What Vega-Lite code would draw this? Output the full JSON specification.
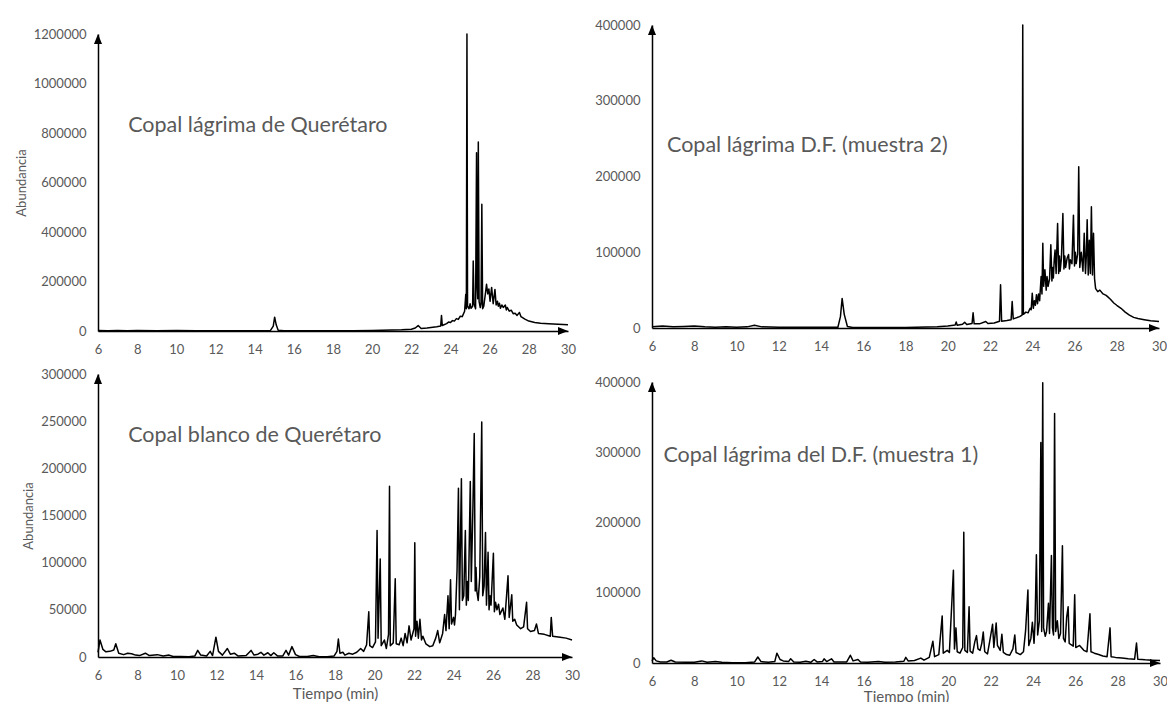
{
"$schema": "https://vega.github.io/schema/vega-lite/v6.json",
"padding": {"left": 15, "top": 19, "right": 0, "bottom": 0},
"background": "white",
"config": {
  "view": {"stroke": null},
  "font": "Lato",
  "axis": {"domainColor": "#000", "domainWidth": 1.5, "ticks": false, "grid": false, "labelColor": "#595959", "labelFont": "Lato", "labelFontSize": 13, "titleColor": "#595959", "titleFont": "Lato", "titleFontWeight": "normal", "labelPadding": 12, "labelOverlap": false, "labelFlush": false}
},
"datasets": {
"p1": [
{"t":6.0,"v":2000},{"t":6.5,"v":1500},{"t":7.0,"v":2500},{"t":7.5,"v":1500},{"t":8.0,"v":2000},{"t":9.0,"v":1500},{"t":10.0,"v":2000},{"t":11.0,"v":1000},{"t":12.0,"v":1500},{"t":13.0,"v":1000},{"t":14.0,"v":1500},{"t":14.8,"v":1500},{"t":14.95,"v":20000},{"t":15.02,"v":56000},{"t":15.1,"v":25000},{"t":15.2,"v":3000},{"t":15.5,"v":1000},{"t":16.0,"v":1000},{"t":17.0,"v":1000},{"t":18.0,"v":1000},{"t":19.0,"v":1500},{"t":20.0,"v":2500},{"t":20.5,"v":3000},{"t":21.0,"v":4000},{"t":21.5,"v":5000},{"t":22.0,"v":7000},{"t":22.2,"v":12000},{"t":22.35,"v":22000},{"t":22.5,"v":10000},{"t":22.8,"v":12000},{"t":23.0,"v":14000},{"t":23.3,"v":17000},{"t":23.5,"v":20000},{"t":23.54,"v":63000},{"t":23.58,"v":22000},{"t":23.8,"v":30000},{"t":23.9,"v":36000},{"t":24.0,"v":34000},{"t":24.1,"v":42000},{"t":24.2,"v":40000},{"t":24.3,"v":50000},{"t":24.4,"v":47000},{"t":24.5,"v":60000},{"t":24.6,"v":58000},{"t":24.72,"v":80000},{"t":24.78,"v":148000},{"t":24.81,"v":90000},{"t":24.84,"v":1200000},{"t":24.87,"v":100000},{"t":24.95,"v":90000},{"t":25.0,"v":110000},{"t":25.05,"v":92000},{"t":25.13,"v":100000},{"t":25.16,"v":283000},{"t":25.2,"v":110000},{"t":25.28,"v":90000},{"t":25.33,"v":720000},{"t":25.36,"v":180000},{"t":25.39,"v":130000},{"t":25.42,"v":764000},{"t":25.46,"v":120000},{"t":25.52,"v":95000},{"t":25.56,"v":110000},{"t":25.6,"v":512000},{"t":25.64,"v":90000},{"t":25.7,"v":100000},{"t":25.78,"v":150000},{"t":25.84,"v":189000},{"t":25.9,"v":150000},{"t":25.96,"v":170000},{"t":26.02,"v":120000},{"t":26.1,"v":176000},{"t":26.18,"v":110000},{"t":26.27,"v":168000},{"t":26.33,"v":105000},{"t":26.4,"v":120000},{"t":26.44,"v":100000},{"t":26.5,"v":112000},{"t":26.55,"v":92000},{"t":26.62,"v":105000},{"t":26.7,"v":95000},{"t":26.8,"v":105000},{"t":26.85,"v":85000},{"t":26.9,"v":95000},{"t":27.0,"v":80000},{"t":27.1,"v":84000},{"t":27.2,"v":70000},{"t":27.3,"v":72000},{"t":27.4,"v":63000},{"t":27.52,"v":75000},{"t":27.6,"v":58000},{"t":27.8,"v":48000},{"t":28.0,"v":40000},{"t":28.3,"v":34000},{"t":28.6,"v":31000},{"t":29.0,"v":29000},{"t":29.5,"v":27000},{"t":30.0,"v":25000}
],
"p2": [
{"t":6.0,"v":1500},{"t":6.5,"v":2500},{"t":7.0,"v":1500},{"t":7.5,"v":2000},{"t":8.0,"v":2500},{"t":8.5,"v":1500},{"t":9.0,"v":1000},{"t":9.5,"v":1500},{"t":10.0,"v":1000},{"t":10.5,"v":1500},{"t":10.85,"v":3500},{"t":11.2,"v":1500},{"t":12.0,"v":1000},{"t":13.0,"v":1000},{"t":14.0,"v":1000},{"t":14.8,"v":1000},{"t":14.92,"v":15000},{"t":15.0,"v":39000},{"t":15.1,"v":18000},{"t":15.25,"v":2000},{"t":15.5,"v":800},{"t":16.0,"v":500},{"t":17.0,"v":500},{"t":18.0,"v":800},{"t":18.5,"v":1000},{"t":19.0,"v":1200},{"t":19.5,"v":1500},{"t":20.0,"v":2500},{"t":20.35,"v":4000},{"t":20.4,"v":8000},{"t":20.45,"v":3500},{"t":20.7,"v":5000},{"t":20.8,"v":7500},{"t":20.9,"v":4500},{"t":21.15,"v":6000},{"t":21.2,"v":20000},{"t":21.25,"v":5500},{"t":21.5,"v":5500},{"t":21.8,"v":8500},{"t":21.9,"v":6000},{"t":22.2,"v":6500},{"t":22.45,"v":9000},{"t":22.5,"v":57000},{"t":22.55,"v":9000},{"t":22.8,"v":10000},{"t":23.0,"v":11000},{"t":23.05,"v":35000},{"t":23.1,"v":12000},{"t":23.4,"v":15000},{"t":23.52,"v":17000},{"t":23.55,"v":400000},{"t":23.58,"v":18000},{"t":23.7,"v":21000},{"t":23.8,"v":20000},{"t":23.9,"v":26000},{"t":23.95,"v":24000},{"t":24.0,"v":46000},{"t":24.05,"v":26000},{"t":24.1,"v":36000},{"t":24.15,"v":30000},{"t":24.2,"v":44000},{"t":24.25,"v":32000},{"t":24.3,"v":45000},{"t":24.35,"v":36000},{"t":24.42,"v":68000},{"t":24.46,"v":45000},{"t":24.5,"v":112000},{"t":24.54,"v":55000},{"t":24.6,"v":77000},{"t":24.66,"v":50000},{"t":24.7,"v":68000},{"t":24.75,"v":55000},{"t":24.82,"v":65000},{"t":24.88,"v":110000},{"t":24.93,"v":62000},{"t":24.97,"v":80000},{"t":25.0,"v":66000},{"t":25.04,"v":90000},{"t":25.08,"v":103000},{"t":25.13,"v":72000},{"t":25.2,"v":138000},{"t":25.25,"v":72000},{"t":25.29,"v":95000},{"t":25.32,"v":75000},{"t":25.38,"v":92000},{"t":25.45,"v":151000},{"t":25.5,"v":78000},{"t":25.54,"v":95000},{"t":25.58,"v":80000},{"t":25.65,"v":92000},{"t":25.72,"v":97000},{"t":25.76,"v":78000},{"t":25.8,"v":90000},{"t":25.88,"v":85000},{"t":25.95,"v":149000},{"t":26.0,"v":82000},{"t":26.04,"v":100000},{"t":26.08,"v":85000},{"t":26.15,"v":98000},{"t":26.2,"v":213000},{"t":26.25,"v":80000},{"t":26.32,"v":100000},{"t":26.4,"v":75000},{"t":26.46,"v":125000},{"t":26.52,"v":72000},{"t":26.56,"v":95000},{"t":26.6,"v":143000},{"t":26.65,"v":70000},{"t":26.7,"v":116000},{"t":26.75,"v":72000},{"t":26.8,"v":160000},{"t":26.85,"v":70000},{"t":26.9,"v":125000},{"t":26.95,"v":65000},{"t":27.0,"v":52000},{"t":27.1,"v":48000},{"t":27.2,"v":50000},{"t":27.35,"v":45000},{"t":27.5,"v":43000},{"t":27.7,"v":38000},{"t":27.86,"v":33000},{"t":28.0,"v":30000},{"t":28.2,"v":26000},{"t":28.4,"v":21000},{"t":28.6,"v":17000},{"t":28.8,"v":14000},{"t":29.0,"v":12500},{"t":29.3,"v":11000},{"t":29.6,"v":9500},{"t":30.0,"v":8500}
],
"p3": [
{"t":6.0,"v":5000},{"t":6.1,"v":18000},{"t":6.25,"v":8000},{"t":6.4,"v":5500},{"t":6.6,"v":6000},{"t":6.8,"v":7500},{"t":6.9,"v":14000},{"t":7.05,"v":4000},{"t":7.3,"v":2500},{"t":7.5,"v":4000},{"t":7.7,"v":3500},{"t":7.9,"v":2000},{"t":8.1,"v":1500},{"t":8.4,"v":4000},{"t":8.6,"v":1500},{"t":9.0,"v":2500},{"t":9.3,"v":1000},{"t":9.6,"v":2000},{"t":9.8,"v":500},{"t":10.2,"v":500},{"t":10.6,"v":300},{"t":10.9,"v":1000},{"t":11.05,"v":7000},{"t":11.2,"v":2000},{"t":11.5,"v":1000},{"t":11.68,"v":6000},{"t":11.8,"v":1500},{"t":11.97,"v":21000},{"t":12.1,"v":6000},{"t":12.3,"v":2000},{"t":12.55,"v":9000},{"t":12.7,"v":3000},{"t":12.9,"v":4000},{"t":13.1,"v":1000},{"t":13.5,"v":1500},{"t":13.75,"v":7000},{"t":13.9,"v":2000},{"t":14.1,"v":3000},{"t":14.25,"v":5000},{"t":14.4,"v":2000},{"t":14.6,"v":4500},{"t":14.75,"v":1500},{"t":14.9,"v":4500},{"t":15.1,"v":1000},{"t":15.35,"v":1000},{"t":15.52,"v":7000},{"t":15.65,"v":2000},{"t":15.82,"v":11000},{"t":16.0,"v":2500},{"t":16.2,"v":500},{"t":16.6,"v":500},{"t":16.9,"v":1500},{"t":17.2,"v":300},{"t":17.6,"v":300},{"t":17.95,"v":1000},{"t":18.1,"v":6000},{"t":18.17,"v":19000},{"t":18.25,"v":4000},{"t":18.4,"v":5000},{"t":18.5,"v":2000},{"t":18.7,"v":4000},{"t":18.9,"v":3000},{"t":19.1,"v":5000},{"t":19.3,"v":9000},{"t":19.45,"v":6000},{"t":19.6,"v":13000},{"t":19.71,"v":48000},{"t":19.76,"v":12000},{"t":19.9,"v":10000},{"t":20.05,"v":16000},{"t":20.13,"v":134000},{"t":20.18,"v":20000},{"t":20.29,"v":104000},{"t":20.34,"v":12000},{"t":20.5,"v":18000},{"t":20.6,"v":9000},{"t":20.71,"v":24000},{"t":20.76,"v":181000},{"t":20.8,"v":12000},{"t":20.95,"v":15000},{"t":21.05,"v":83000},{"t":21.1,"v":14000},{"t":21.25,"v":13000},{"t":21.35,"v":20000},{"t":21.45,"v":12000},{"t":21.55,"v":25000},{"t":21.65,"v":15000},{"t":21.75,"v":33000},{"t":21.85,"v":18000},{"t":22.0,"v":30000},{"t":22.04,"v":121000},{"t":22.08,"v":22000},{"t":22.15,"v":38000},{"t":22.22,"v":20000},{"t":22.3,"v":40000},{"t":22.38,"v":18000},{"t":22.45,"v":22000},{"t":22.6,"v":14000},{"t":22.8,"v":11000},{"t":22.95,"v":12000},{"t":23.1,"v":20000},{"t":23.2,"v":28000},{"t":23.3,"v":15000},{"t":23.45,"v":25000},{"t":23.55,"v":45000},{"t":23.62,"v":28000},{"t":23.72,"v":65000},{"t":23.78,"v":30000},{"t":23.85,"v":82000},{"t":23.9,"v":35000},{"t":24.0,"v":42000},{"t":24.05,"v":34000},{"t":24.1,"v":45000},{"t":24.18,"v":92000},{"t":24.25,"v":179000},{"t":24.3,"v":50000},{"t":24.4,"v":189000},{"t":24.45,"v":60000},{"t":24.52,"v":65000},{"t":24.6,"v":134000},{"t":24.65,"v":55000},{"t":24.7,"v":80000},{"t":24.75,"v":60000},{"t":24.85,"v":186000},{"t":24.9,"v":80000},{"t":24.98,"v":155000},{"t":25.05,"v":237000},{"t":25.1,"v":70000},{"t":25.14,"v":95000},{"t":25.18,"v":70000},{"t":25.25,"v":60000},{"t":25.33,"v":85000},{"t":25.43,"v":249000},{"t":25.48,"v":65000},{"t":25.55,"v":75000},{"t":25.62,"v":132000},{"t":25.67,"v":55000},{"t":25.75,"v":111000},{"t":25.8,"v":50000},{"t":25.85,"v":65000},{"t":25.9,"v":55000},{"t":26.02,"v":110000},{"t":26.07,"v":48000},{"t":26.13,"v":58000},{"t":26.2,"v":50000},{"t":26.28,"v":56000},{"t":26.35,"v":45000},{"t":26.5,"v":52000},{"t":26.6,"v":40000},{"t":26.76,"v":86000},{"t":26.82,"v":42000},{"t":26.95,"v":66000},{"t":27.0,"v":38000},{"t":27.1,"v":40000},{"t":27.2,"v":34000},{"t":27.4,"v":30000},{"t":27.55,"v":32000},{"t":27.7,"v":58000},{"t":27.75,"v":30000},{"t":27.9,"v":27000},{"t":28.1,"v":28000},{"t":28.2,"v":35000},{"t":28.3,"v":25000},{"t":28.6,"v":24000},{"t":28.9,"v":22000},{"t":28.95,"v":42000},{"t":29.02,"v":22000},{"t":29.4,"v":21000},{"t":29.7,"v":20000},{"t":30.0,"v":18000}
],
"p4": [
{"t":6.0,"v":3000},{"t":6.08,"v":7500},{"t":6.2,"v":3000},{"t":6.4,"v":1500},{"t":6.7,"v":1500},{"t":6.9,"v":4000},{"t":7.1,"v":1500},{"t":7.6,"v":1000},{"t":8.0,"v":1000},{"t":8.35,"v":3000},{"t":8.6,"v":1000},{"t":9.0,"v":2000},{"t":9.3,"v":1000},{"t":9.8,"v":500},{"t":10.4,"v":500},{"t":10.85,"v":1500},{"t":11.0,"v":8500},{"t":11.15,"v":2000},{"t":11.5,"v":1000},{"t":11.8,"v":2000},{"t":11.9,"v":14000},{"t":12.05,"v":5000},{"t":12.2,"v":3000},{"t":12.45,"v":2000},{"t":12.55,"v":6000},{"t":12.7,"v":1500},{"t":13.0,"v":1000},{"t":13.27,"v":2500},{"t":13.5,"v":1000},{"t":13.66,"v":5000},{"t":13.8,"v":1500},{"t":14.05,"v":2000},{"t":14.13,"v":6000},{"t":14.25,"v":2000},{"t":14.48,"v":6000},{"t":14.6,"v":1500},{"t":14.9,"v":1500},{"t":15.2,"v":1500},{"t":15.37,"v":11000},{"t":15.5,"v":3000},{"t":15.73,"v":5000},{"t":15.85,"v":1500},{"t":16.2,"v":1000},{"t":16.7,"v":2000},{"t":17.0,"v":1000},{"t":17.5,"v":1500},{"t":17.9,"v":2500},{"t":17.99,"v":8000},{"t":18.1,"v":3000},{"t":18.4,"v":3500},{"t":18.7,"v":7000},{"t":18.85,"v":4000},{"t":19.1,"v":8000},{"t":19.27,"v":31000},{"t":19.35,"v":9000},{"t":19.55,"v":12000},{"t":19.71,"v":67000},{"t":19.76,"v":14000},{"t":19.95,"v":18000},{"t":20.05,"v":15000},{"t":20.24,"v":132000},{"t":20.29,"v":20000},{"t":20.36,"v":50000},{"t":20.42,"v":16000},{"t":20.55,"v":14000},{"t":20.68,"v":22000},{"t":20.73,"v":186000},{"t":20.78,"v":18000},{"t":20.9,"v":15000},{"t":20.98,"v":80000},{"t":21.03,"v":17000},{"t":21.15,"v":14000},{"t":21.25,"v":30000},{"t":21.33,"v":39000},{"t":21.4,"v":20000},{"t":21.5,"v":18000},{"t":21.58,"v":28000},{"t":21.65,"v":44000},{"t":21.72,"v":16000},{"t":21.85,"v":13000},{"t":21.95,"v":30000},{"t":22.09,"v":55000},{"t":22.15,"v":22000},{"t":22.26,"v":57000},{"t":22.32,"v":25000},{"t":22.45,"v":18000},{"t":22.53,"v":41000},{"t":22.6,"v":15000},{"t":22.75,"v":12000},{"t":22.9,"v":11000},{"t":23.05,"v":20000},{"t":23.14,"v":40000},{"t":23.2,"v":15000},{"t":23.4,"v":12000},{"t":23.55,"v":16000},{"t":23.65,"v":46000},{"t":23.76,"v":104000},{"t":23.8,"v":25000},{"t":23.9,"v":35000},{"t":23.97,"v":58000},{"t":24.05,"v":28000},{"t":24.1,"v":60000},{"t":24.16,"v":154000},{"t":24.22,"v":40000},{"t":24.3,"v":60000},{"t":24.37,"v":314000},{"t":24.41,"v":45000},{"t":24.46,"v":399000},{"t":24.5,"v":50000},{"t":24.58,"v":38000},{"t":24.64,"v":45000},{"t":24.73,"v":85000},{"t":24.78,"v":42000},{"t":24.87,"v":153000},{"t":24.92,"v":50000},{"t":24.97,"v":40000},{"t":25.02,"v":355000},{"t":25.07,"v":45000},{"t":25.15,"v":60000},{"t":25.22,"v":35000},{"t":25.3,"v":42000},{"t":25.39,"v":167000},{"t":25.44,"v":35000},{"t":25.52,"v":30000},{"t":25.59,"v":65000},{"t":25.66,"v":80000},{"t":25.71,"v":28000},{"t":25.8,"v":26000},{"t":25.9,"v":24000},{"t":25.97,"v":97000},{"t":26.02,"v":22000},{"t":26.2,"v":25000},{"t":26.4,"v":18000},{"t":26.55,"v":16000},{"t":26.69,"v":70000},{"t":26.74,"v":16000},{"t":26.9,"v":14000},{"t":27.1,"v":12000},{"t":27.3,"v":10000},{"t":27.5,"v":9000},{"t":27.64,"v":50000},{"t":27.69,"v":9000},{"t":27.9,"v":8000},{"t":28.2,"v":7000},{"t":28.5,"v":6000},{"t":28.8,"v":5500},{"t":28.89,"v":28500},{"t":28.95,"v":5500},{"t":29.3,"v":4500},{"t":29.6,"v":4000},{"t":30.0,"v":3500}
]
},
"spacing": 14,
"hconcat": [
{
 "spacing": 0,
 "vconcat": [
 {"width": 470, "height": 3, "data": {"values": []}, "mark": "point"},
 {
 "spacing": 12,
 "vconcat": [
  {
   "width": 470, "height": 297,
   "layer": [
    {"data": {"name": "p1"}, "mark": {"type": "line", "color": "#000", "strokeWidth": 1.5, "strokeJoin": "round"},
     "encoding": {
      "x": {"field": "t", "type": "quantitative", "scale": {"domain": [6, 30], "nice": false, "zero": false}, "axis": {"values": [6,8,10,12,14,16,18,20,22,24,26,28,30], "tickCount": 13, "labelOverlap": false, "title": null}},
      "y": {"field": "v", "type": "quantitative", "scale": {"domain": [0, 1200000], "nice": false}, "axis": {"values": [0,200000,400000,600000,800000,1000000,1200000], "tickCount": 7, "labelOverlap": false, "format": "d", "title": "Abundancia", "titleFontSize": 13, "titlePadding": 5}}
     }},
    {"data": {"values": [{}]}, "mark": {"type": "point", "shape": "M0,0L0.8,2L-0.8,2Z", "filled": true, "color": "#000", "opacity": 1, "size": 100}, "encoding": {"x": {"datum": 6}, "y": {"datum": 1200000}}},
    {"data": {"values": [{}]}, "mark": {"type": "point", "shape": "M0,0L-2,-0.8L-2,0.8Z", "filled": true, "color": "#000", "opacity": 1, "size": 100}, "encoding": {"x": {"datum": 30}, "y": {"datum": 0}}},
    {"data": {"values": [{}]}, "mark": {"type": "text", "align": "left", "baseline": "middle", "fontSize": 21.5, "font": "Lato", "color": "#595959", "text": "Copal lágrima de Querétaro"}, "encoding": {"x": {"datum": 7.54}, "y": {"datum": 828000}}}
   ]
  },
  {
   "width": 474, "height": 283,
   "layer": [
    {"data": {"name": "p3"}, "mark": {"type": "line", "color": "#000", "strokeWidth": 1.5, "strokeJoin": "round"},
     "encoding": {
      "x": {"field": "t", "type": "quantitative", "scale": {"domain": [6, 30], "nice": false, "zero": false}, "axis": {"values": [6,8,10,12,14,16,18,20,22,24,26,28,30], "tickCount": 13, "labelOverlap": false, "title": "Tiempo (min)", "titleFontSize": 15, "titlePadding": 4}},
      "y": {"field": "v", "type": "quantitative", "scale": {"domain": [0, 300000], "nice": false}, "axis": {"values": [0,50000,100000,150000,200000,250000,300000], "tickCount": 7, "labelOverlap": false, "format": "d", "title": "Abundancia", "titleFontSize": 13, "titlePadding": 5}}
     }},
    {"data": {"values": [{}]}, "mark": {"type": "point", "shape": "M0,0L0.8,2L-0.8,2Z", "filled": true, "color": "#000", "opacity": 1, "size": 100}, "encoding": {"x": {"datum": 6}, "y": {"datum": 300000}}},
    {"data": {"values": [{}]}, "mark": {"type": "point", "shape": "M0,0L-2,-0.8L-2,0.8Z", "filled": true, "color": "#000", "opacity": 1, "size": 100}, "encoding": {"x": {"datum": 30}, "y": {"datum": 0}}},
    {"data": {"values": [{}]}, "mark": {"type": "text", "align": "left", "baseline": "middle", "fontSize": 21.5, "font": "Lato", "color": "#595959", "text": "Copal blanco de Querétaro"}, "encoding": {"x": {"datum": 7.53}, "y": {"datum": 234500}}}
   ]
  }
 ]
 }
 ]
},
{
 "spacing": 23,
 "vconcat": [
  {
   "width": 507, "height": 303,
   "layer": [
    {"data": {"name": "p2"}, "mark": {"type": "line", "color": "#000", "strokeWidth": 1.5, "strokeJoin": "round"},
     "encoding": {
      "x": {"field": "t", "type": "quantitative", "scale": {"domain": [6, 30], "nice": false, "zero": false}, "axis": {"values": [6,8,10,12,14,16,18,20,22,24,26,28,30], "tickCount": 13, "labelOverlap": false, "title": null}},
      "y": {"field": "v", "type": "quantitative", "scale": {"domain": [0, 400000], "nice": false}, "axis": {"values": [0,100000,200000,300000,400000], "tickCount": 5, "labelOverlap": false, "format": "d", "title": null}}
     }},
    {"data": {"values": [{}]}, "mark": {"type": "point", "shape": "M0,0L0.8,2L-0.8,2Z", "filled": true, "color": "#000", "opacity": 1, "size": 100}, "encoding": {"x": {"datum": 6}, "y": {"datum": 400000}}},
    {"data": {"values": [{}]}, "mark": {"type": "point", "shape": "M0,0L-2,-0.8L-2,0.8Z", "filled": true, "color": "#000", "opacity": 1, "size": 100}, "encoding": {"x": {"datum": 30}, "y": {"datum": 0}}},
    {"data": {"values": [{}]}, "mark": {"type": "text", "align": "left", "baseline": "middle", "fontSize": 21.5, "font": "Lato", "color": "#595959", "text": "Copal lágrima D.F. (muestra 2)"}, "encoding": {"x": {"datum": 6.71}, "y": {"datum": 240800}}}
   ]
  },
  {
   "width": 508, "height": 281,
   "layer": [
    {"data": {"name": "p4"}, "mark": {"type": "line", "color": "#000", "strokeWidth": 1.5, "strokeJoin": "round"},
     "encoding": {
      "x": {"field": "t", "type": "quantitative", "scale": {"domain": [6, 30], "nice": false, "zero": false}, "axis": {"values": [6,8,10,12,14,16,18,20,22,24,26,28,30], "tickCount": 13, "labelOverlap": false, "title": "Tiempo (min)", "titleFontSize": 15, "titlePadding": 1}},
      "y": {"field": "v", "type": "quantitative", "scale": {"domain": [0, 400000], "nice": false}, "axis": {"values": [0,100000,200000,300000,400000], "tickCount": 5, "labelOverlap": false, "format": "d", "title": null}}
     }},
    {"data": {"values": [{}]}, "mark": {"type": "point", "shape": "M0,0L0.8,2L-0.8,2Z", "filled": true, "color": "#000", "opacity": 1, "size": 100}, "encoding": {"x": {"datum": 6}, "y": {"datum": 400000}}},
    {"data": {"values": [{}]}, "mark": {"type": "point", "shape": "M0,0L-2,-0.8L-2,0.8Z", "filled": true, "color": "#000", "opacity": 1, "size": 100}, "encoding": {"x": {"datum": 30}, "y": {"datum": 0}}},
    {"data": {"values": [{}]}, "mark": {"type": "text", "align": "left", "baseline": "middle", "fontSize": 21.5, "font": "Lato", "color": "#595959", "text": "Copal lágrima del D.F. (muestra 1)"}, "encoding": {"x": {"datum": 6.54}, "y": {"datum": 294500}}}
   ]
  }
 ]
}
]
}
